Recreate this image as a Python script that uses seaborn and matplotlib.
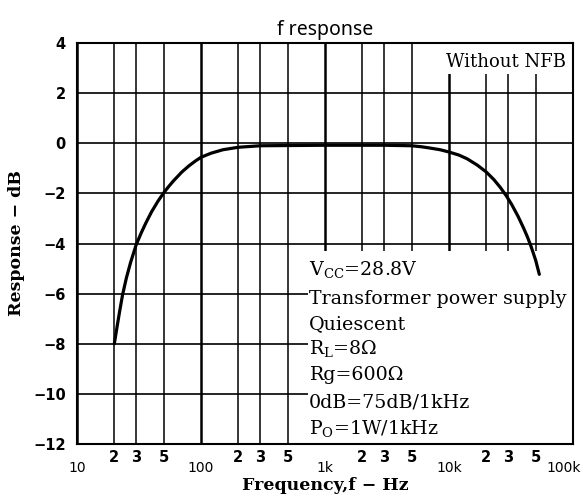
import matplotlib
matplotlib.use("Agg")
import matplotlib.pyplot as plt
import matplotlib.transforms as mtrans
import seaborn as sns
import pandas as pd
from matplotlib.patches import Rectangle

sns.set_theme(style="white")
plt.rcParams["mathtext.fontset"] = "dejavuserif"
plt.rcParams["text.color"] = "black"
plt.rcParams["axes.labelcolor"] = "black"

# curve (Hz, dB)
freq = [20, 21, 22, 23.3, 25, 27, 30, 33, 36, 40, 45, 50, 55, 60, 70, 80, 90,
        100, 120, 150, 200, 300, 1000, 3000, 5000, 6000, 7000, 8500, 10000,
        12000, 14000, 17000, 20000, 23000, 26000, 29000, 32000, 36000, 40000,
        43000, 46000, 50000, 53500]
resp = [-8.0, -7.35, -6.75, -6.05, -5.38, -4.77, -4.05, -3.57, -3.17, -2.73,
        -2.31, -1.98, -1.72, -1.5, -1.15, -0.9, -0.71, -0.56, -0.4, -0.26,
        -0.16, -0.1, -0.08, -0.08, -0.1, -0.14, -0.19, -0.26, -0.35, -0.47,
        -0.62, -0.88, -1.15, -1.45, -1.77, -2.1, -2.44, -2.91, -3.39, -3.75,
        -4.13, -4.67, -5.23]

decades = [10, 100, 1000, 10000, 100000]
decade_labels = ["10", "100", "1k", "10k", "100k"]
minor_mult = [2, 3, 5]
y_ticks = [4, 2, 0, -2, -4, -6, -8, -10, -12]

notes = [r"V$_{\mathrm{CC}}$=28.8V", "Transformer power supply", "Quiescent",
         r"R$_{\mathrm{L}}$=8Ω", "Rg=600Ω", "0dB=75dB/1kHz",
         r"P$_{\mathrm{O}}$=1W/1kHz"]
note_y = [-5.05, -6.2, -7.2, -8.2, -9.25, -10.35, -11.4]

df = pd.DataFrame({"f": freq, "dB": resp})

fig, ax = plt.subplots(figsize=(5.84, 4.95), dpi=100)
fig.subplots_adjust(left=77 / 584, right=573 / 584, top=1 - 43 / 495, bottom=1 - 444 / 495)

ax.set_xscale("log")
ax.set_xlim(10, 100000)
ax.set_ylim(-12, 4)

minor = [m * d for d in decades[:-1] for m in minor_mult]
ax.set_xticks(decades)
ax.set_xticklabels(decade_labels)
ax.set_xticks(minor, minor=True)
ax.set_xticklabels([str(m) for d in decades[:-1] for m in minor_mult], minor=True)
ax.set_yticks(y_ticks)
ax.set_yticklabels([str(v).replace("-", "\u2212") for v in y_ticks])

ax.tick_params(axis="x", which="major", length=0, pad=12, labelsize=10, colors="black")
ax.tick_params(axis="x", which="minor", length=0, pad=4, labelsize=10.5, colors="black")
ax.tick_params(axis="y", length=0, pad=8, labelsize=10.5, colors="black")
for lab in ax.get_xticklabels(minor=True) + ax.get_yticklabels():
    lab.set_fontweight("bold")
last = ax.get_xticklabels()[-1]
last.set_ha("right")
last.set_transform(last.get_transform() + mtrans.ScaledTranslation(8 / 100, 0, fig.dpi_scale_trans))

ax.set_axisbelow(True)
ax.grid(which="major", axis="x", color="black", lw=1.8)
ax.grid(which="minor", axis="x", color="black", lw=1.1)
ax.grid(which="major", axis="y", color="black", lw=1.2)
for s in ax.spines.values():
    s.set_color("black")
    s.set_linewidth(1.5)

# white panels hiding the grid behind the annotations
ax.add_patch(Rectangle((0.465, 0), 0.535, (12 - 4.3) / 16, transform=ax.transAxes,
                       facecolor="white", edgecolor="none", zorder=1))
ax.add_patch(Rectangle((0.72, (12 + 2.75) / 16), 0.28, 1 - (14.75 / 16), transform=ax.transAxes,
                       facecolor="white", edgecolor="none", zorder=1))

sns.lineplot(data=df, x="f", y="dB", color="black", lw=2.3, ax=ax, zorder=3)

ax.text(0.985, 3.25, "Without NFB", transform=ax.get_yaxis_transform(), ha="right",
        va="center", family="DejaVu Serif", fontsize=13, zorder=4)
for txt, yy in zip(notes, note_y):
    ax.text(0.468, yy, txt, transform=ax.get_yaxis_transform(), ha="left", va="center",
            family="DejaVu Serif", fontsize=13.7, zorder=4)

ax.set_title("f response", fontsize=14, family="Noto Sans", pad=6)
ax.set_xlabel("Frequency,f \u2212 Hz", family="DejaVu Serif", fontsize=12.5,
              fontweight="semibold", labelpad=2)
ax.set_ylabel("Response \u2212 dB", family="DejaVu Serif", fontsize=12.5,
              fontweight="semibold", labelpad=6)

fig.savefig("out.png", dpi=100)
